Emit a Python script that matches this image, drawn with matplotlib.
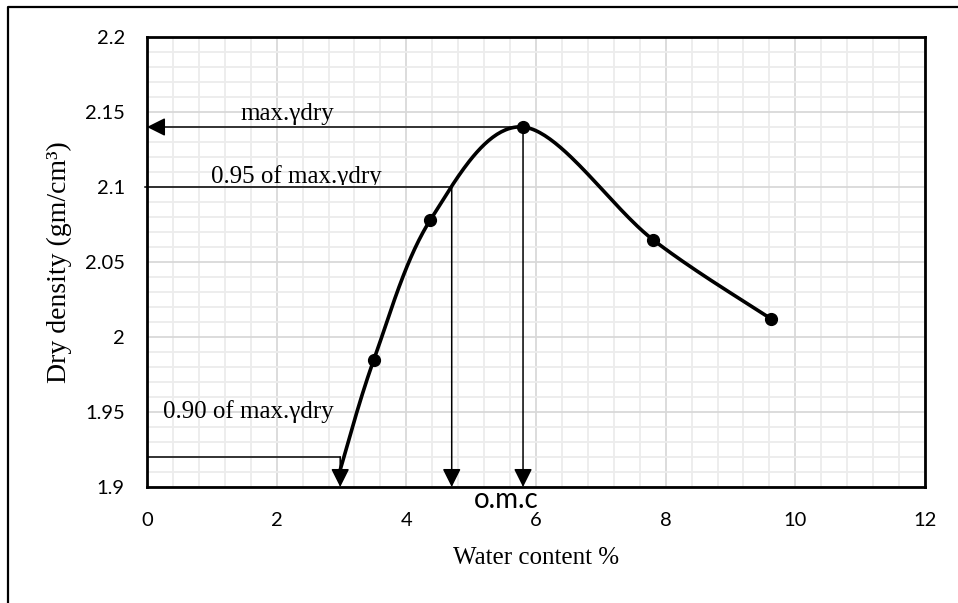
import numpy as np
import matplotlib
matplotlib.use("Agg")
import matplotlib.pyplot as plt
from matplotlib.lines import Line2D
from matplotlib.ticker import MultipleLocator
from matplotlib.transforms import Bbox, TransformedBbox

# measured compaction points
water = [3.5, 4.37, 5.8, 7.8, 9.63]
density = [1.985, 2.078, 2.14, 2.065, 2.012]
# where the drawn curve runs into the 0.90 arrow
curve_start_x = 2.97
curve_start_y = 1.91

max_dry = 2.14
omc = 5.8
dry_95 = 2.1
w_95 = 4.70
dry_90 = 1.92
w_90 = 2.98

x_ticks = [0, 2, 4, 6, 8, 10, 12]
y_ticks = [1.9, 1.95, 2.0, 2.05, 2.1, 2.15, 2.2]
y_tick_labels = ["1.9", "1.95", "2", "2.05", "2.1", "2.15", "2.2"]

serif = "Liberation Serif"
sans = "Lato"


def smooth(xs, ys, n=50):
    # Excel-like smoothed line (Catmull-Rom as cubic Bezier)
    p = np.column_stack([xs, ys]).astype(float)
    ext = np.vstack([p[0], p, p[-1]])
    out = []
    t = np.linspace(0, 1, n)[:, None]
    for i in range(1, len(ext) - 2):
        p0, p1, p2, p3 = ext[i - 1], ext[i], ext[i + 1], ext[i + 2]
        b1 = p1 + (p2 - p0) / 6
        b2 = p2 - (p3 - p1) / 6
        seg = ((1 - t) ** 3) * p1 + 3 * (1 - t) ** 2 * t * b1 + 3 * (1 - t) * t ** 2 * b2 + t ** 3 * p2
        out.append(seg if i == 1 else seg[1:])
    out = np.vstack(out)
    return out[:, 0], out[:, 1]


fig = plt.figure(figsize=(9.58, 6.03), dpi=100)
ax = fig.add_axes([147 / 958, (603 - 487) / 603, 778 / 958, 450 / 603])

ax.set_xlim(0, 12)
ax.set_ylim(1.9, 2.2)
ax.set_xticks(x_ticks)
ax.set_yticks(y_ticks)
ax.set_yticklabels(y_tick_labels)
ax.xaxis.set_minor_locator(MultipleLocator(0.4))
ax.yaxis.set_minor_locator(MultipleLocator(0.01))
ax.grid(which="major", color="#d9d9d9", lw=1.3, zorder=0)
ax.grid(which="minor", color="#ececec", lw=1.3, zorder=0)
ax.set_axisbelow(True)
ax.tick_params(which="both", length=0)
ax.tick_params(axis="y", pad=16, labelsize=14.5)
ax.tick_params(axis="x", pad=18, labelsize=14.5)
for lab in ax.get_xticklabels() + ax.get_yticklabels():
    lab.set_fontfamily(sans)
for s in ax.spines.values():
    s.set_linewidth(2)
    s.set_color("black")

# curve and points
cx, cy = smooth([curve_start_x] + water, [curve_start_y] + density)
ax.plot(cx, cy, color="black", lw=2.6, zorder=4, solid_capstyle="butt")
ax.plot(water, density, "o", color="black", ms=8.5, zorder=5)

# guide lines
arrow = dict(arrowstyle="-|>,head_length=0.4,head_width=0.2", color="black",
             lw=1.1, mutation_scale=28, shrinkA=0, shrinkB=0)
ax.annotate("", xy=(0, max_dry), xytext=(omc, max_dry), arrowprops=arrow, zorder=3)
ax.annotate("", xy=(omc, 1.9), xytext=(omc, max_dry), arrowprops=arrow, zorder=3)
ax.annotate("", xy=(w_95, 1.9), xytext=(w_95, dry_95), arrowprops=arrow, zorder=3)
ax.annotate("", xy=(w_90, 1.9), xytext=(w_90, dry_90), arrowprops=arrow, zorder=3)
ax.plot([-0.03, w_95], [dry_95, dry_95], color="black", lw=1.1, zorder=3, clip_on=False)
ax.plot([0, w_90], [dry_90, dry_90], color="black", lw=1.1, zorder=3)

# labels on the lines
ax.text(1.434, 2.1445, "max.γdry", family=serif, fontsize=18, va="baseline")
t95 = ax.text(0.986, 2.1027, "0.95 of max.γdry", family=serif, fontsize=18, va="baseline")
t95.set_clip_box(TransformedBbox(Bbox([[0.5, 2.1012], [6, 2.2]]), ax.transData))
t95.set_clip_on(True)
ax.text(0.245, 1.946, "0.90 of max.γdry", family=serif, fontsize=18, va="baseline")
ax.text(5.545, 1.886, "o.m.c", family=sans, fontsize=20, ha="center", va="baseline", clip_on=False)

ax.set_xlabel("Water content %", family=serif, fontsize=18)
ax.xaxis.set_label_coords(0.5, -0.158)
ax.xaxis.label.set_verticalalignment("center")
ax.set_ylabel("Dry density (gm/cm³)", family=serif, fontsize=20)
ax.yaxis.set_label_coords(-0.112, 0.5)
ax.yaxis.label.set_verticalalignment("center")

# outer frame of the figure
fig.add_artist(Line2D([8 / 958, 8 / 958, 1], [0, 1 - 7 / 603, 1 - 7 / 603],
                      transform=fig.transFigure, color="black", lw=1.6))

fig.savefig("out.png", dpi=100)
